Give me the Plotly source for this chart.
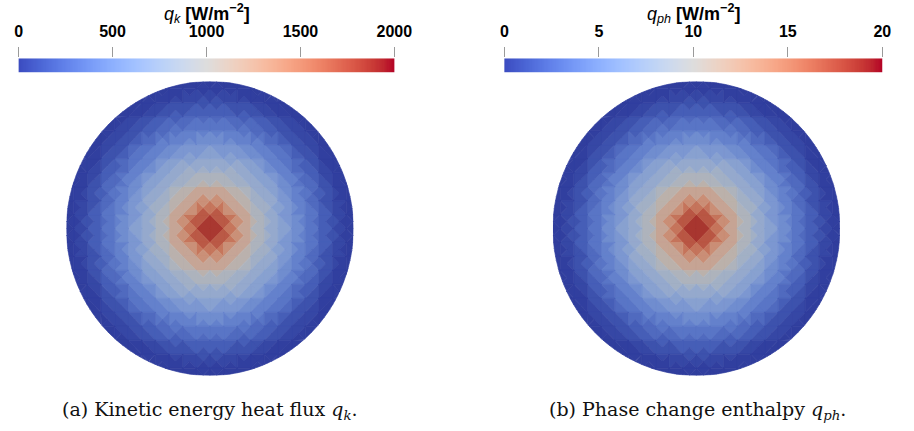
import numpy as np
import plotly.graph_objects as go
from plotly.colors import sample_colorscale

# Radial profiles of the two heat-flux fields on the disk (r / R -> value)
radius_frac = [0.00, 0.05, 0.10, 0.15, 0.20, 0.25, 0.30, 0.35, 0.40, 0.45, 0.50,
               0.55, 0.60, 0.65, 0.70, 0.75, 0.80, 0.85, 0.90, 0.95, 1.00]
qk_values = [1950, 1850, 1700, 1550, 1380, 1200, 1050, 930, 830, 740, 650,
             560, 480, 400, 320, 250, 180, 110, 50, 10, 0]
qph_values = [19.6, 18.6, 17.1, 15.6, 13.9, 12.1, 10.6, 9.4, 8.4, 7.4, 6.5,
              5.6, 4.8, 4.0, 3.2, 2.5, 1.8, 1.1, 0.5, 0.1, 0.0]

qk_ticks = [0, 500, 1000, 1500, 2000]
qph_ticks = [0, 5, 10, 15, 20]
qk_range = [0, 2000]
qph_range = [0, 20]

# ParaView "Cool to Warm" diverging map
cool_warm = [(59, 76, 192), (68, 90, 204), (77, 104, 215), (87, 117, 225), (98, 130, 234),
             (108, 142, 241), (119, 154, 247), (130, 165, 251), (141, 176, 254), (152, 185, 255),
             (163, 194, 255), (174, 201, 253), (184, 208, 249), (194, 213, 244), (204, 217, 238),
             (213, 219, 230), (221, 221, 221), (229, 216, 209), (236, 211, 197), (241, 204, 185),
             (245, 196, 173), (247, 187, 160), (247, 177, 148), (247, 166, 135), (244, 154, 123),
             (241, 141, 111), (236, 127, 99), (229, 112, 88), (222, 96, 77), (213, 80, 66),
             (203, 62, 56), (192, 40, 47), (180, 4, 38)]
colorscale = [[i / (len(cool_warm) - 1), "rgb(%d,%d,%d)" % c] for i, c in enumerate(cool_warm)]

SHADE = 0.82  # surface lighting on the rendered disk


def clip_convex(poly, clip):
    """Sutherland-Hodgman clipping of poly against a convex CCW polygon."""
    out = poly
    m = len(clip)
    for k in range(m):
        a = clip[k]
        b = clip[(k + 1) % m]
        inp = out
        out = []
        if not inp:
            break

        def inside(p):
            return (b[0] - a[0]) * (p[1] - a[1]) - (b[1] - a[1]) * (p[0] - a[0]) >= 0

        def inter(p, q):
            dx1, dy1 = q[0] - p[0], q[1] - p[1]
            dx2, dy2 = b[0] - a[0], b[1] - a[1]
            den = dx1 * dy2 - dy1 * dx2
            t = ((a[0] - p[0]) * dy2 - (a[1] - p[1]) * dx2) / den
            return (p[0] + t * dx1, p[1] + t * dy1)

        s = inp[-1]
        for e in inp:
            if inside(e):
                if not inside(s):
                    out.append(inter(s, e))
                out.append(e)
            elif inside(s):
                out.append(inter(s, e))
            s = e
    return out


# Criss-cross triangulation of a square grid, clipped to the unit disk
th = np.linspace(0, 2 * np.pi, 256, endpoint=False)
circle = [(float(np.cos(t)), float(np.sin(t))) for t in th]
h = 0.095
n = 11
cells = []
for i in range(-n, n):
    for j in range(-n, n):
        x0, y0 = i * h, j * h
        x1, y1 = x0 + h, y0 + h
        c = ((x0 + x1) / 2, (y0 + y1) / 2)
        for tri in ([(x0, y0), (x1, y0), c], [(x1, y0), (x1, y1), c],
                    [(x1, y1), (x0, y1), c], [(x0, y1), (x0, y0), c]):
            if all(px * px + py * py <= 1 for px, py in tri):
                poly = tri
            else:
                poly = clip_convex(tri, circle)
            if len(poly) >= 3:
                cells.append(poly)

step = radius_frac[1] - radius_frac[0]


def ring_index(poly):
    cx = sum(p[0] for p in poly) / len(poly)
    cy = sum(p[1] for p in poly) / len(poly)
    r = (cx * cx + cy * cy) ** 0.5
    return min(int(round(r / step)), len(radius_frac) - 1)


cell_ring = [ring_index(p) for p in cells]


def shaded(value, vmax):
    col = sample_colorscale(colorscale, [value / vmax])[0]
    r, g, b = [float(v) for v in col[col.index("(") + 1:-1].split(",")]
    return "rgb(%d,%d,%d)" % (r * SHADE, g * SHADE, b * SHADE)


fig = go.Figure()


def add_disk(values, vmax, xa, ya):
    for k, v in enumerate(values):
        xs, ys = [], []
        for poly, ring in zip(cells, cell_ring):
            if ring != k:
                continue
            xs += [p[0] for p in poly] + [poly[0][0], None]
            ys += [p[1] for p in poly] + [poly[0][1], None]
        if not xs:
            continue
        col = shaded(v, vmax)
        fig.add_trace(go.Scatter(x=xs, y=ys, mode="lines", fill="toself",
                                 fillcolor=col, line=dict(color=col, width=0.7),
                                 hoverinfo="skip", showlegend=False,
                                 xaxis=xa, yaxis=ya))


def add_colorbar(vrange, xa, ya):
    ramp = np.linspace(vrange[0], vrange[1], 300)
    fig.add_trace(go.Heatmap(z=[ramp], x=ramp, y=[0], colorscale=colorscale,
                             zmin=vrange[0], zmax=vrange[1], showscale=False,
                             hoverinfo="skip", xaxis=xa, yaxis=ya))


add_disk(qk_values, qk_range[1], "x", "y")
add_disk(qph_values, qph_range[1], "x2", "y2")
add_colorbar(qk_range, "x3", "y3")
add_colorbar(qph_range, "x4", "y4")

W, H = 914, 431
disk_r = 147
disk_cy = 228.5
left_cx, right_cx = 211, 709.5
cb_top, cb_bot = 58.3, 72.7
cb_left = (15, 400)
cb_right = (512.7, 900)


def px_dom_x(a, b):
    return [a / W, b / W]


def px_dom_y(top, bot):
    return [1 - bot / H, 1 - top / H]


hidden = dict(visible=False, showgrid=False, zeroline=False, fixedrange=True)
fig.update_layout(
    width=W, height=H, margin=dict(l=0, r=0, t=0, b=0),
    paper_bgcolor="white", plot_bgcolor="white",
    xaxis=dict(hidden, domain=px_dom_x(left_cx - disk_r, left_cx + disk_r), range=[-1, 1]),
    yaxis=dict(hidden, domain=px_dom_y(disk_cy - disk_r, disk_cy + disk_r), range=[-1, 1]),
    xaxis2=dict(hidden, domain=px_dom_x(right_cx - disk_r, right_cx + disk_r), range=[-1, 1]),
    yaxis2=dict(hidden, domain=px_dom_y(disk_cy - disk_r, disk_cy + disk_r), range=[-1, 1]),
)

tick_font = dict(family="Liberation Sans", size=16, color="black", weight="bold")
for xa, ya, vr, ticks, span in (("xaxis3", "yaxis3", qk_range, qk_ticks, cb_left),
                                ("xaxis4", "yaxis4", qph_range, qph_ticks, cb_right)):
    fig.update_layout({
        xa: dict(domain=px_dom_x(*span), range=vr, side="top", anchor=ya.replace("axis", ""),
                 tickvals=ticks, ticktext=[str(t) for t in ticks], ticks="outside",
                 ticklen=10, tickcolor="#9a9a9a", tickwidth=1, tickfont=tick_font,
                 ticklabelstandoff=4,
                 showgrid=False, zeroline=False, showline=False, fixedrange=True),
        ya: dict(hidden, domain=px_dom_y(cb_top, cb_bot), range=[-0.5, 0.5],
                 anchor=xa.replace("axis", "")),
    })

title_font = dict(family="Liberation Sans", size=18, color="black")
for cx, sub in (((cb_left[0] + cb_left[1]) / 2, "k"), ((cb_right[0] + cb_right[1]) / 2, "ph")):
    fig.add_annotation(x=cx / W, y=1 - 14 / H, xref="paper", yref="paper",
                       text="<i>q</i><sub><i>%s</i></sub> <b>[W/m<sup>−2</sup>]</b>" % sub,
                       showarrow=False, font=title_font, xanchor="center", yanchor="middle")

cap_font = dict(family="DejaVu Serif", size=19, color="#111111")
for cx, txt in ((211, "(a) Kinetic energy heat flux <i>q<sub>k</sub></i>."),
                (710.5, "(b) Phase change enthalpy <i>q<sub>ph</sub></i>.")):
    fig.add_annotation(x=cx / W, y=1 - 410 / H, xref="paper", yref="paper", text=txt,
                       showarrow=False, font=cap_font, xanchor="center", yanchor="middle")

fig.write_html("out.html")
